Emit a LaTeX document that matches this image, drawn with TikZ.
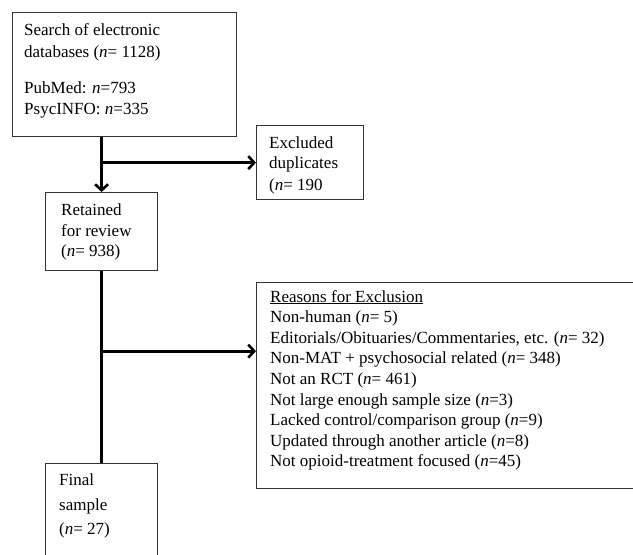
\documentclass[tikz,border=0pt]{standalone}
\usepackage{fontspec}
\setmainfont{Liberation Serif}
\usetikzlibrary{arrows.meta}
\begin{document}
\begin{tikzpicture}[x=1pt,y=-1pt,
  box/.style={draw=black!80, line width=1.2pt, anchor=north west, inner sep=0pt},
  txt/.style={anchor=base west, inner sep=0pt, font=\fontsize{17}{20}\selectfont},
  conn/.style={line width=2.6pt, black},
  tip/.style={-{Straight Barb[length=6pt,width=13pt,line width=2.6pt]}}]
\path[use as bounding box] (0,0) rectangle (633,555);
\clip (0,0) rectangle (633,555);

% boxes
\node[box, minimum width=224pt, minimum height=124pt] (search) at (12,12) {};
\node[box, minimum width=107pt, minimum height=74pt] (excl) at (256,125) {};
\node[box, minimum width=112pt, minimum height=78pt] (ret) at (45,192) {};
\node[box, minimum width=420pt, minimum height=206pt] (reas) at (256,282) {};
\node[box, minimum width=112pt, minimum height=120pt] (final) at (45,463) {};

% texts
\node[txt] (s1) at (24,35) {Search of electronic};
\node[txt] (s2) at (24,57) {databases (\textit{n}= 1128)};
\node[txt] (s3) at (24,93) {PubMed: \textit{n}=793};
\node[txt] (s4) at (24,114) {PsycINFO: \textit{n}=335};

\node[txt] (e1) at (269,148) {Excluded};
\node[txt] (e2) at (269,168) {duplicates};
\node[txt] (e3) at (269,190) {(\textit{n}= 190};

\node[txt] (t1) at (61,215) {Retained};
\node[txt] (t2) at (61,236) {for review};
\node[txt] (t3) at (61,256) {(\textit{n}= 938)};

\node[txt] (r0) at (270,302.0) {\underline{Reasons for Exclusion}};
\node[txt] (r1) at (270,322.6) {Non-human (\textit{n}= 5)};
\node[txt] (r2) at (270,343.2) {Editorials/Obituaries/Commentaries, etc. (\textit{n}= 32)};
\node[txt] (r3) at (270,363.8) {Non-MAT + psychosocial related (\textit{n}= 348)};
\node[txt] (r4) at (270,384.4) {Not an RCT (\textit{n}= 461)};
\node[txt] (r5) at (270,405.0) {Not large enough sample size (\textit{n}=3)};
\node[txt] (r6) at (270,425.6) {Lacked control/comparison group (\textit{n}=9)};
\node[txt] (r7) at (270,446.2) {Updated through another article (\textit{n}=8)};
\node[txt] (r8) at (270,466.8) {Not opioid-treatment focused (\textit{n}=45)};

\node[txt] (f1) at (59,485) {Final};
\node[txt] (f2) at (59,510) {sample};
\node[txt] (f3) at (59,534) {(\textit{n}= 27)};

% connectors
\draw[conn, tip] (search.south -| ret.north) -- (ret.north);
\draw[conn, tip] (ret.north |- excl.west) -- (excl.west);
\draw[conn] (ret.south) -- (final.north);
\path (ret.south) ++(0,80) coordinate (b2);
\draw[conn, tip] (b2) -- (b2 -| reas.west);
\end{tikzpicture}
\end{document}
